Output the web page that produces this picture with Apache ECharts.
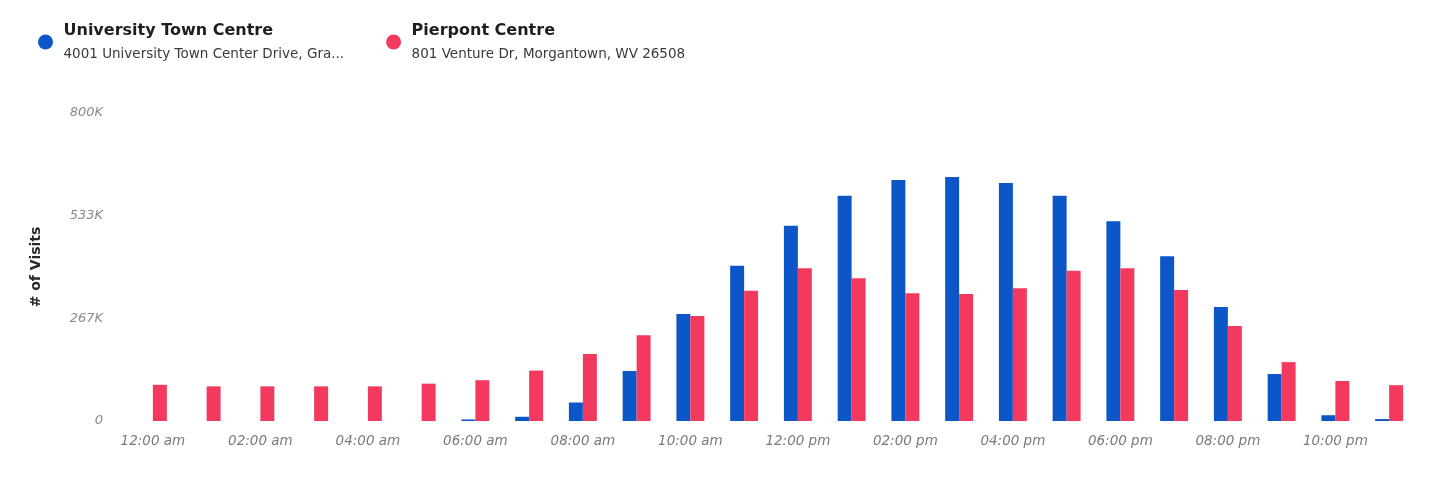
<!DOCTYPE html>
<html>
<head>
<meta charset="utf-8">
<script src="https://cdn.jsdelivr.net/npm/echarts@6/dist/echarts.min.js"></script>
<style>
  html, body { margin: 0; padding: 0; background: #ffffff; }
  #chart { width: 1435px; height: 480px; }
</style>
</head>
<body>
<div id="chart"></div>
<script>
const hours = [
  '12:00 am', '01:00 am', '02:00 am', '03:00 am', '04:00 am', '05:00 am',
  '06:00 am', '07:00 am', '08:00 am', '09:00 am', '10:00 am', '11:00 am',
  '12:00 pm', '01:00 pm', '02:00 pm', '03:00 pm', '04:00 pm', '05:00 pm',
  '06:00 pm', '07:00 pm', '08:00 pm', '09:00 pm', '10:00 pm', '11:00 pm'
]

const universityVisits = [
  0, 0, 0, 0, 0, 0, 4000, 11000, 48000, 130000, 278000, 403000,
  507000, 585000, 626000, 634000, 618000, 585000, 519000, 428000, 296000, 122000, 15000, 5000
]

const pierpontVisits = [
  94000, 90000, 90000, 90000, 90000, 97000, 106000, 131000, 174000, 223000, 273000, 338000,
  397000, 371000, 332000, 330000, 345000, 390000, 397000, 340000, 247000, 153000, 104000, 93000
]

const yTicks = ['0', '267K', '533K', '800K']

const venues = [
  { name: 'University Town Centre', address: '4001 University Town Center Drive, Gra...' },
  { name: 'Pierpont Centre', address: '801 Venture Dr, Morgantown, WV 26508' }
]

const blue = '#0d56c8'
const red = '#f33a5e'

const chart = echarts.init(document.getElementById('chart'))

const option = {
  backgroundColor: '#ffffff',
  textStyle: { fontFamily: 'DejaVu Sans, sans-serif' },
  legend: {
    left: 33,
    top: 18,
    icon: 'circle',
    itemWidth: 26,
    itemHeight: 15,
    itemGap: 42,
    data: venues.map(v => v.name),
    formatter: (name) => {
      const v = venues.find(x => x.name === name)
      return '{t|' + v.name + '}\n{s|' + v.address + '}'
    },
    textStyle: {
      rich: {
        t: { fontSize: 16, fontWeight: 'bold', color: '#1e1e1e', lineHeight: 24 },
        s: { fontSize: 13.5, color: '#3a3a3a', lineHeight: 22 }
      }
    }
  },
  grid: { left: 126, right: 19, top: 113, bottom: 59 },
  xAxis: {
    type: 'category',
    data: hours,
    axisLine: { show: false },
    axisTick: { show: false },
    axisLabel: {
      interval: 1,
      margin: 13,
      fontSize: 13.5,
      fontStyle: 'italic',
      color: '#7a7a7a'
    }
  },
  yAxis: {
    type: 'value',
    min: 0,
    max: 800000,
    interval: 800000 / 3,
    name: '# of Visits',
    nameLocation: 'middle',
    nameGap: 83,
    nameTextStyle: { fontSize: 14, fontWeight: 'bold', color: '#2a2a2a' },
    splitLine: { show: false },
    axisLine: { show: false },
    axisTick: { show: false },
    axisLabel: {
      margin: 23,
      fontSize: 13,
      fontStyle: 'italic',
      color: '#8a8a8a',
      formatter: (val) => yTicks[Math.round(val / (800000 / 3))]
    }
  },
  series: [
    {
      name: venues[0].name,
      type: 'bar',
      data: universityVisits,
      itemStyle: { color: blue },
      barGap: '0%',
      barCategoryGap: '48%'
    },
    {
      name: venues[1].name,
      type: 'bar',
      data: pierpontVisits,
      itemStyle: { color: red },
      barGap: '0%',
      barCategoryGap: '48%'
    }
  ]
}

chart.setOption(option)
</script>
</body>
</html>
